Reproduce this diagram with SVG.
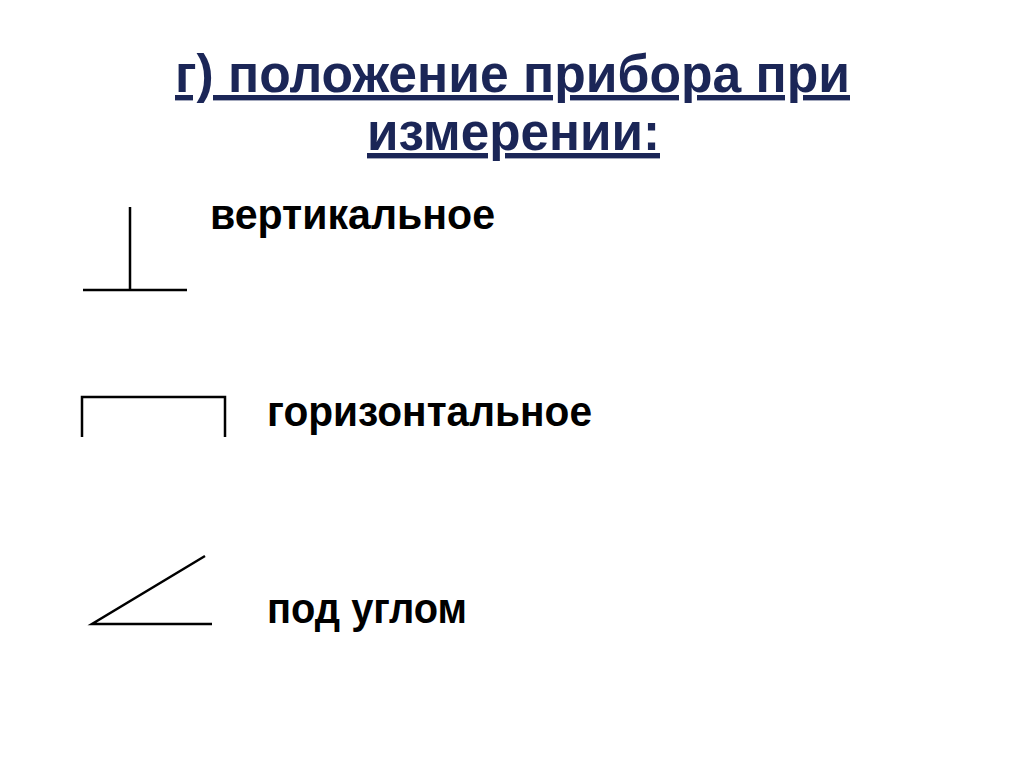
<svg xmlns="http://www.w3.org/2000/svg" width="1024" height="767" viewBox="0 0 1024 767">
<style>
.t{font-family:"Liberation Sans",Arial,sans-serif;font-weight:bold;fill:#1b2657;font-size:54px;text-decoration:underline}
.l{font-family:"Liberation Sans",Arial,sans-serif;font-weight:bold;fill:#000;font-size:42px}
.s{stroke:#000;stroke-width:2.5;fill:none}
</style>
<rect width="1024" height="767" fill="#fff"/>
<g id="title">
<text class="t" x="175" y="92" textLength="675" lengthAdjust="spacingAndGlyphs">г) положение прибора при</text>
<text class="t" x="367" y="150" textLength="293" lengthAdjust="spacingAndGlyphs">измерении:</text>
</g>
<g id="vertical">
<path class="s" d="M130,207V290M83,290H187"/>
<text class="l" x="210" y="229" textLength="285" lengthAdjust="spacingAndGlyphs">вертикальное</text>
</g>
<g id="horizontal">
<path class="s" stroke-width="3.5" d="M82,437V397H225V437"/>
<text class="l" x="267" y="426" textLength="325" lengthAdjust="spacingAndGlyphs">горизонтальное</text>
</g>
<g id="angle">
<path class="s" d="M205,556L92,624H212"/>
<text class="l" x="267" y="623" textLength="200" lengthAdjust="spacingAndGlyphs">под углом</text>
</g>
</svg>
